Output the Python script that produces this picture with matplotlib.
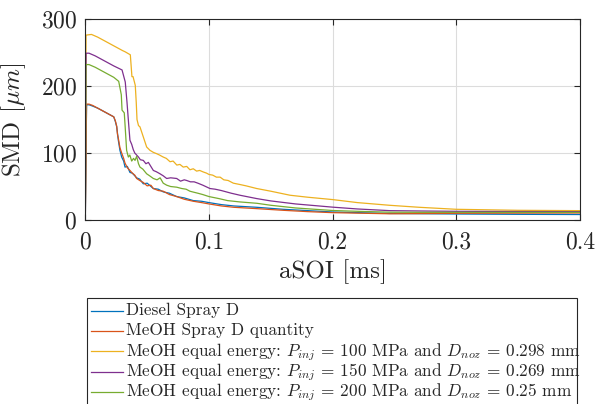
import matplotlib
matplotlib.use('Agg')
import matplotlib.pyplot as plt
from matplotlib.lines import Line2D
from matplotlib.patches import Rectangle

plt.rcParams['font.family'] = 'cmr10'
plt.rcParams['mathtext.fontset'] = 'cm'
plt.rcParams['axes.formatter.use_mathtext'] = True

# Diesel Spray D
x_diesel = [0, 0.001, 0.003, 0.006, 0.010, 0.015, 0.020, 0.023, 0.0243, 0.0254, 0.0267, 0.028,
            0.0294, 0.031, 0.0321, 0.034, 0.0361, 0.038, 0.040, 0.0415, 0.044, 0.0469, 0.050,
            0.055, 0.059, 0.063, 0.068, 0.0739, 0.080, 0.0873, 0.094, 0.100, 0.110, 0.120,
            0.1386, 0.16, 0.18, 0.2, 0.246, 0.3, 0.35, 0.4]
y_diesel = [0, 172, 172, 170, 167, 162, 157, 154, 147, 139, 119, 104,
            94, 88, 79, 80, 71, 70, 66, 63, 61, 54, 55,
            47, 46, 42, 40, 35, 33, 29, 28, 26, 23, 21,
            19, 16, 14, 12, 9.8, 9, 8.5, 8.2]

# MeOH Spray D quantity
x_meoh = [0, 0.001, 0.003, 0.006, 0.010, 0.015, 0.020, 0.023, 0.0243, 0.0254, 0.026, 0.0267, 0.028,
          0.0294, 0.031, 0.0321, 0.034, 0.0361, 0.038, 0.040, 0.0415, 0.044, 0.0469, 0.050,
          0.053, 0.055, 0.059, 0.063, 0.068, 0.0739, 0.080, 0.0873, 0.094, 0.100, 0.110, 0.120,
          0.1386, 0.16, 0.18, 0.2, 0.246, 0.3, 0.35, 0.4]
y_meoh = [0, 173, 173, 171, 167, 162, 157, 154, 148, 140, 128, 122, 108,
          100, 92, 85, 78, 74, 70, 67, 62, 59, 56, 51,
          52, 47, 44, 43, 38, 35, 31, 28, 26, 24, 21, 19,
          17, 14.5, 12.5, 11, 9.3, 10, 10.3, 10.5]

# MeOH equal energy, 100 MPa
x_p100 = [0, 0.0006, 0.005, 0.010, 0.015, 0.020, 0.025, 0.030, 0.0323, 0.0364, 0.0377, 0.0386,
          0.0404, 0.0412, 0.0418, 0.043, 0.0442, 0.0469, 0.0496, 0.0523, 0.055, 0.0577, 0.060,
          0.063, 0.0655, 0.0685, 0.071, 0.074, 0.0765, 0.0792, 0.082, 0.0846, 0.0873, 0.090,
          0.0925, 0.0954, 0.098, 0.100, 0.103, 0.106, 0.109, 0.112, 0.1155, 0.1197, 0.125,
          0.130, 0.1386, 0.15, 0.1655, 0.18, 0.2, 0.22, 0.246, 0.27, 0.3, 0.35, 0.4]
y_p100 = [0, 276, 277, 273, 268, 263, 258, 253, 251, 246.6, 214, 214,
          201, 175, 150, 141, 139, 124, 109, 104, 101, 99, 97,
          94, 92, 87, 88, 82, 83, 79, 80, 75, 76.5, 73,
          74, 71.7, 70, 68, 67, 64, 64, 60, 59, 55, 53,
          51, 47, 43, 37, 34, 30.5, 26, 22, 19, 16, 14.5, 14]

# MeOH equal energy, 150 MPa
x_p150 = [0, 0.0006, 0.003, 0.008, 0.013, 0.018, 0.023, 0.0297, 0.0323, 0.0337, 0.0351, 0.0361,
          0.0375, 0.0388, 0.040, 0.0415, 0.043, 0.0445, 0.0469, 0.049, 0.051, 0.053, 0.055,
          0.0575, 0.0604, 0.063, 0.0658, 0.069, 0.0739, 0.077, 0.080, 0.082, 0.085, 0.088,
          0.091, 0.095, 0.1008, 0.105, 0.110, 0.118, 0.125, 0.1386, 0.15, 0.17, 0.2, 0.22,
          0.246, 0.27, 0.3, 0.35, 0.4]
y_p150 = [0, 249, 249, 245, 240, 235, 230, 224, 206, 176, 142, 119,
          113, 105, 100, 97, 94, 90, 89, 84, 86, 80, 74,
          72, 69, 66, 62, 63, 62, 58, 60, 59, 57, 57,
          55, 52, 47, 46, 44, 40, 37, 32, 28.5, 24, 19.2, 16.5,
          14, 13.5, 13, 12.7, 12.5]

# MeOH equal energy, 200 MPa
x_p200 = [0, 0.0005, 0.003, 0.008, 0.013, 0.018, 0.023, 0.027, 0.0291, 0.0297, 0.0315, 0.0322,
          0.0334, 0.0348, 0.036, 0.0375, 0.039, 0.0402, 0.0415, 0.043, 0.0442, 0.0465, 0.0496,
          0.052, 0.055, 0.058, 0.0605, 0.063, 0.0658, 0.069, 0.0739, 0.078, 0.0815, 0.0846,
          0.0873, 0.091, 0.095, 0.1, 0.108, 0.115, 0.125, 0.1386, 0.15, 0.17, 0.2, 0.22,
          0.246, 0.27, 0.3, 0.35, 0.4]
y_p200 = [0, 232, 232, 228, 223, 218, 213, 207, 187, 164, 160, 140,
          104, 94, 97, 88, 92, 89, 95, 84, 79, 76, 69,
          66, 62, 60, 63, 55, 52, 50, 49, 47, 46, 43,
          41.7, 40, 38, 35, 32, 29, 27, 25, 22, 18, 14.2, 13,
          11.7, 11.5, 11.5, 11.5, 11.5]

labels = [
    'Diesel Spray D',
    'MeOH Spray D quantity',
    r'MeOH equal energy: $P_{inj}$ = 100 MPa and $D_{noz}$ = 0.298 mm',
    r'MeOH equal energy: $P_{inj}$ = 150 MPa and $D_{noz}$ = 0.269 mm',
    r'MeOH equal energy: $P_{inj}$ = 200 MPa and $D_{noz}$ = 0.25 mm',
]
colors = ['#0072BD', '#D95319', '#EDB120', '#7E2F8E', '#77AC30']

W, H = 597, 404
fig = plt.figure(figsize=(W / 100, H / 100), dpi=100)
ax = fig.add_axes([0.1429, 0.4554, 0.8286, 0.4975])

series = [(x_diesel, y_diesel), (x_meoh, y_meoh), (x_p100, y_p100),
          (x_p150, y_p150), (x_p200, y_p200)]
for (xs, ys), c, lab in zip(series, colors, labels):
    ax.plot(xs, ys, color=c, lw=0.9, label=lab)

ax.set_xlim(0, 0.4)
ax.set_ylim(0, 300)
ax.set_xticks([0, 0.1, 0.2, 0.3, 0.4])
ax.set_xticklabels(['0', '0.1', '0.2', '0.3', '0.4'])
ax.set_yticks([0, 100, 200, 300])
ax.grid(True, color='#dcdcdc', lw=0.8)
ax.set_axisbelow(True)
for s in ax.spines.values():
    s.set_color('#262626')
    s.set_linewidth(0.8)
ax.tick_params(direction='in', top=True, right=True, length=4, width=0.8,
               colors='#262626', labelsize=17)
ax.tick_params(axis='x', pad=8)
ax.tick_params(axis='y', pad=6)
ax.set_xlabel('aSOI [ms]', fontsize=18, color='#262626', labelpad=4)
ax.set_ylabel(r'SMD [$\mu m$]', fontsize=18, color='#262626', labelpad=9)

# legend box below the axes, drawn by hand so the rows are evenly spaced
def fx(px):
    return px / W

def fy(py):
    return 1 - py / H

fig.add_artist(Rectangle((fx(87.3), fy(420)), fx(576.7) - fx(87.3), fy(298.3) - fy(420),
                         transform=fig.transFigure, facecolor='white',
                         edgecolor='#262626', lw=0.8))
for i, (c, lab) in enumerate(zip(colors, labels)):
    row = 310.7 + 20.3 * i
    fig.add_artist(Line2D([fx(91), fx(122.7)], [fy(row), fy(row)],
                          transform=fig.transFigure, color=c, lw=0.9))
    fig.text(fx(125.7), fy(row + 4.5), lab, fontsize=12.4, color='#262626',
             ha='left', va='baseline')

fig.savefig('out.png', dpi=100)
